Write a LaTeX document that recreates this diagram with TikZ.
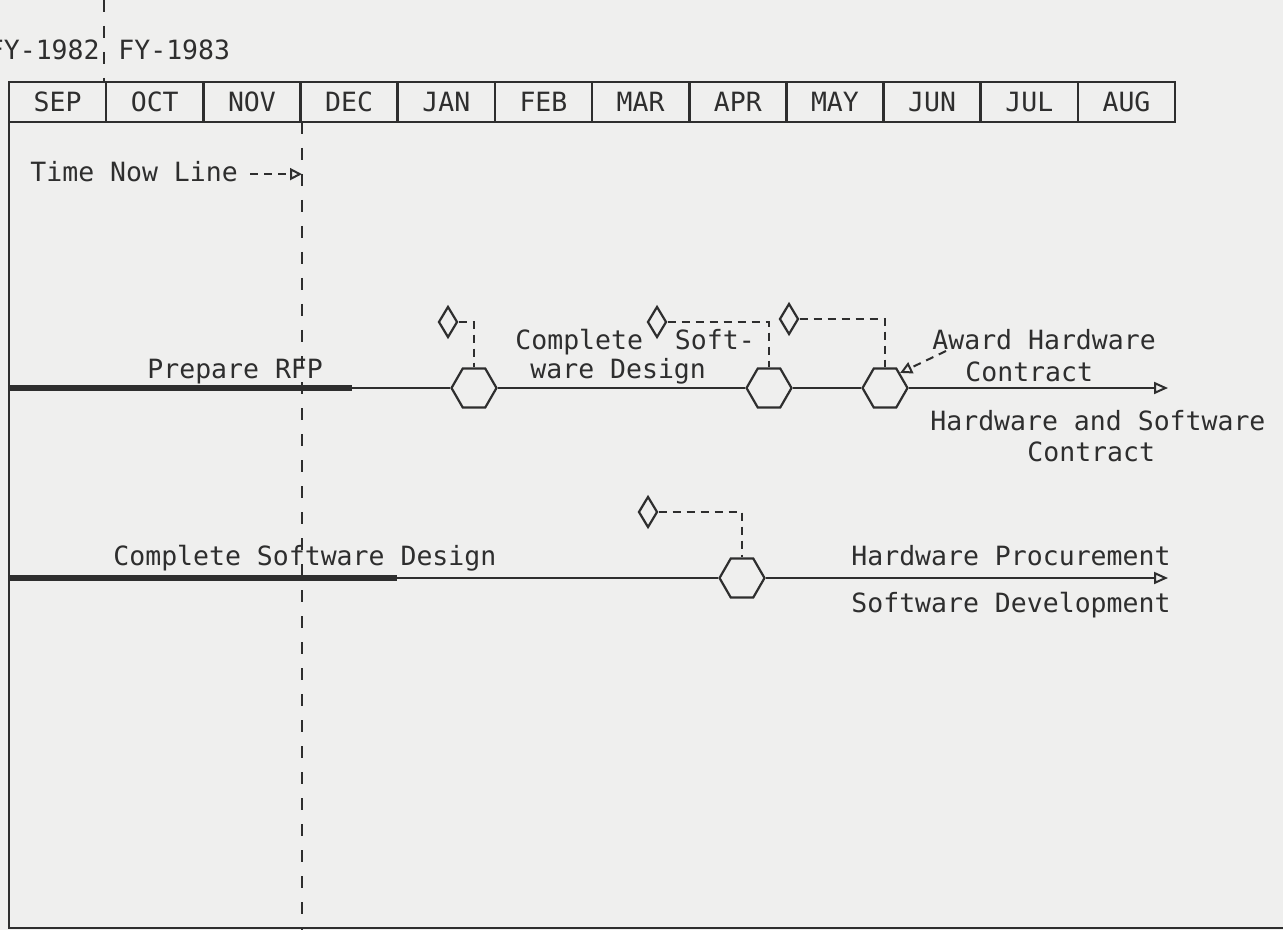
\documentclass[tikz,border=0pt]{standalone}
\usepackage{fontspec}
\setmonofont{DejaVu Sans Mono}
\usetikzlibrary{arrows.meta, positioning, calc, shapes.geometric}
\definecolor{ink}{HTML}{2E2E2E}
\definecolor{paper}{HTML}{EFEFEE}
\tikzset{
  font=\ttfamily\fontsize{13.25}{15.5}\selectfont,
  %
  lbl/.style={text=ink, inner sep=0pt, anchor=base west},
  month/.style={text=ink, inner sep=0pt, anchor=base},
  %
  frame/.style={draw=ink, line width=1.3pt},
  bar/.style={draw=ink, line width=3pt},
  track/.style={draw=ink, line width=1pt, -{Triangle[open, length=7pt, width=6pt]}},
  link/.style={draw=ink, line width=1pt, dash pattern=on 4pt off 3pt},
  pointer/.style={link, -{Triangle[open, length=6pt, width=6pt]}},
  nowline/.style={draw=ink, line width=1pt, dash pattern=on 6pt off 7pt},
  %
  hexa/.style={regular polygon, regular polygon sides=6, draw=ink, line width=1.1pt,
               fill=paper, minimum size=22.5pt, inner sep=0pt},
  gem/.style={diamond, draw=ink, line width=1.1pt, aspect=0.55, inner sep=0pt,
              minimum width=9.5pt, minimum height=15.5pt},
}

\begin{document}
\begin{tikzpicture}[x=0.5pt, y=-0.5pt]

  \fill[paper] (0,0) rectangle (1283,930);
  \useasboundingbox (0,0) rectangle (1283,930);

  % --- fiscal years ------------------------------------------------------
  \node[lbl, anchor=base east] (fy82) at (100,60) {FY-1982};
  \node[lbl] (fy83) at (118,60) {FY-1983};
  \coordinate (fytop) at (104,0);
  \coordinate (fybot) at (104,82);
  \draw[nowline] (fytop) -- (fybot);

  % --- month header --------------------------------------------------------
  \draw[frame] (9,82) rectangle (1175,122);
  \foreach \m [count=\i from 0] in {SEP,OCT,NOV,DEC,JAN,FEB,MAR,APR,MAY,JUN,JUL,AUG} {
    \node[month] (m\i) at ({9+97.17*\i+48.6},112) {\m};
    \ifnum\i>0 \draw[frame] ({9+97.17*\i},82) -- ({9+97.17*\i},122); \fi
  }

  % --- chart frame and time now line ---------------------------------------
  \draw[frame] (9,122) -- (9,928) -- (1283,928);
  \coordinate (nowtop) at (302,122);
  \coordinate (nowbot) at (302,930);
  \draw[nowline] (nowtop) -- (nowbot);
  \node[lbl] (tnl) at (30,182) {Time Now Line};
  \draw[pointer] ($(tnl.east)+(12,2)$) -- ($(tnl.east -| nowtop)+(0,2)$);

  % --- row 1: contract -------------------------------------------------------
  \coordinate (r1s) at (9,388);
  \coordinate (r1b) at (352,388);
  \coordinate (r1e) at (1168,388);
  \node[hexa] (h1) at (474,388) {};
  \node[hexa] (h2) at (769,388) {};
  \node[hexa] (h3) at (885,388) {};
  \node[gem] (d1) at (448,322) {};
  \node[gem] (d2) at (657,322) {};
  \node[gem] (d3) at (789,319) {};

  \draw[bar] (r1s) -- (r1b);
  \draw[track] (r1s) -- (h1) -- (h2) -- (h3) -- (r1e);
  \draw[link] (d1.east) -| (h1.north);
  \draw[link] (d2.east) -| (h2.north);
  \draw[link] (d3.east) -| (h3.north);

  \node[lbl] (rfp) at (147,378) {Prepare RFP};
  \node[lbl] (csd1) at (515,350) {Complete~~Soft-};
  \node[lbl] (csd2) at (530,378) {ware Design};
  \node[lbl] (aw1) at (932,350) {Award Hardware};
  \node[lbl] (aw2) at (965,381) {Contract};
  \node[lbl] (hs1) at (930,430) {Hardware and Software};
  \node[lbl] (hs2) at (1027,461) {Contract};
  \coordinate (awtail) at (946,351);
  \draw[pointer] (awtail) -- (h3.north east);

  % --- row 2: procurement ----------------------------------------------------
  \coordinate (r2s) at (9,578);
  \coordinate (r2b) at (397,578);
  \coordinate (r2e) at (1168,578);
  \node[hexa] (h4) at (742,578) {};
  \node[gem] (d4) at (648,512) {};

  \draw[bar] (r2s) -- (r2b);
  \draw[track] (r2s) -- (h4) -- (r2e);
  \draw[link] (d4.east) -| (h4.north);

  \node[lbl] (csd) at (113,565) {Complete Software Design};
  \node[lbl] (hp) at (851,565) {Hardware Procurement};
  \node[lbl] (sd) at (851,612) {Software Development};

\end{tikzpicture}
\end{document}
